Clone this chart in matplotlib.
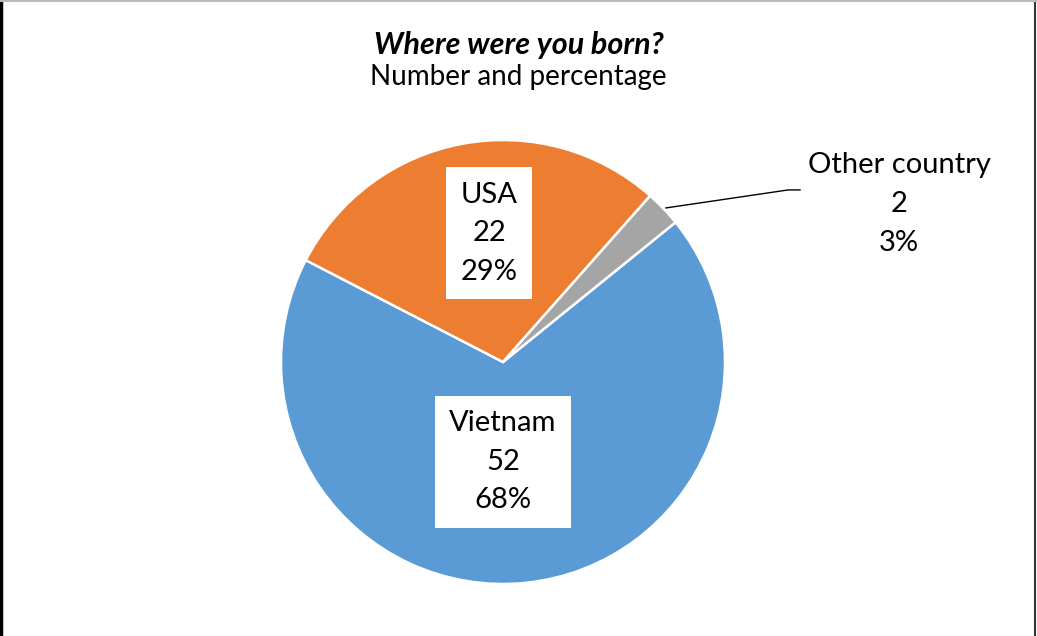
import matplotlib.pyplot as plt
from matplotlib.lines import Line2D

# data
labels = ['Vietnam', 'USA', 'Other country']
counts = [52, 22, 2]
percents = ['68%', '29%', '3%']
colors = ['#5B9BD5', '#ED7D31', '#A5A5A5']

plt.rcParams['font.family'] = ['Lato', 'DejaVu Sans']

fig = plt.figure(figsize=(10.37, 6.36), dpi=100)

# pie axes placed so that the circle sits where it is in the original
W, H = 1037, 636
cx, cy, r = 503, 362, 222
ax = fig.add_axes([(cx - r) / W, (H - cy - r) / H, 2 * r / W, 2 * r / H])
ax.pie(counts, colors=colors, startangle=39, counterclock=False,
       wedgeprops=dict(edgecolor='white', linewidth=1.8))
ax.set_xlim(-1, 1)
ax.set_ylim(-1, 1)
ax.set_aspect('equal')
ax.axis('off')

lbl = [f'{l}\n{c}\n{p}' for l, c, p in zip(labels, counts, percents)]
box = dict(boxstyle='square,pad=0.5', facecolor='white', edgecolor='none')
ax.text(0.0, -0.45, lbl[0], ha='center', va='center', fontsize=21,
        linespacing=1.6, bbox=box)
ax.text(-0.063, 0.58, lbl[1], ha='center', va='center', fontsize=21,
        linespacing=1.6, bbox=box)
ax.text(1.784, 0.712, lbl[2], ha='center', va='center', fontsize=21,
        linespacing=1.6, clip_on=False)
ax.plot([0.734, 1.284, 1.338], [0.694, 0.775, 0.775], color='black',
        linewidth=1, clip_on=False)

fig.text(0.5, 1 - 45 / H, 'Where were you born?', ha='center', va='center',
         fontsize=22, fontweight='bold', fontstyle='italic')
fig.text(0.5, 1 - 77 / H, 'Number and percentage', ha='center', va='center',
         fontsize=20)

# chart frame
fig.add_artist(Line2D([0.001, 0.001], [0, 1], color='black', linewidth=2.5))
fig.add_artist(Line2D([0.9985, 0.9985], [0, 1], color='#333333', linewidth=1.5))
fig.add_artist(Line2D([0, 1], [0.999, 0.999], color='#BBBBBB', linewidth=1.5))

fig.savefig('out.png', dpi=100)
